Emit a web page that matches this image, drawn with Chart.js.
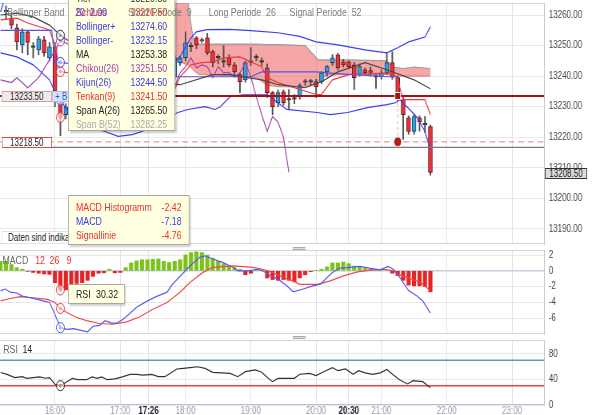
<!DOCTYPE html>
<html><head><meta charset="utf-8">
<script src="https://cdn.jsdelivr.net/npm/chart.js@4.4.1/dist/chart.umd.min.js"></script>
<style>
html,body{margin:0;padding:0;background:#fff;overflow:hidden;width:600px;height:415px}
#wrap{position:absolute;left:0;top:0;width:750px;height:415px;transform:scaleX(0.8);transform-origin:0 0;font-family:"Liberation Sans",Arial,Helvetica,sans-serif}
canvas{position:absolute;left:0}
.abs{position:absolute;white-space:pre}
.plbl{position:absolute;height:11px;line-height:10px;font-size:10px;text-align:center;box-sizing:border-box;color:#222}
.tip{position:absolute;background:rgb(255,255,226);border:1px solid #a8a8a8;box-sizing:border-box;box-shadow:2px 2px 2px rgba(0,0,0,0.2);overflow:hidden}
.row{position:absolute;left:9px;right:9px;height:14px;line-height:14px;font-size:11px;white-space:nowrap}
.row .v{float:right}
.leg{position:absolute;top:5px;height:14px;line-height:14px;font-size:11px;color:#7a7a7a;white-space:pre}
.hdl{position:absolute;left:366px;width:16px;height:1px;border-top:1px solid #aaa;border-bottom:1px solid #aaa;background:#ddd}
</style></head><body>
<div id="wrap">
<canvas id="cMain" width="750" height="246" style="top:0"></canvas>
<canvas id="cMacd" width="750" height="90" style="top:246px"></canvas>
<canvas id="cRsi" width="750" height="79" style="top:336px"></canvas>

<div class="plbl" style="left:2px;top:91px;width:63px;background:#ececec;border:1px solid #dc9a9a">13233.50</div>
<div class="plbl" style="left:65px;top:91px;width:80px;background:#d3e3fa;border:1px solid #a9c0e0;color:#2f5fd0;text-align:left;padding-left:3px">+ Bollinger-</div>
<div class="plbl" style="left:2px;top:137px;width:63px;background:#fff;border:1px solid #d84a4a">13218.50</div>
<div class="plbl" style="left:681px;top:168px;width:53px;background:#dcdcdc;border:1px solid #333">13208.50</div>
<div class="abs" style="left:2px;top:231px;width:130px;height:13px;border:1px solid #e2e2e2;background:#fff;box-sizing:border-box;font-size:10px;line-height:11px;padding-left:7px;color:#222">Daten sind indikativ</div>

<div class="tip" style="left:85px;top:-12px;width:134px;height:143px">
 <div class="row" style="top:2px;color:#333"><span>Tief</span><span class="v">13220.50</span></div>
 <div class="row" style="top:16px;color:#e83030"><span>Schluss</span><span class="v">13226.50</span></div>
 <div class="row" style="top:30px;color:#3a3ae6"><span>Bollinger+</span><span class="v">13274.60</span></div>
 <div class="row" style="top:44px;color:#3a3ae6"><span>Bollinger-</span><span class="v">13232.15</span></div>
 <div class="row" style="top:58px;color:#222"><span>MA</span><span class="v">13253.38</span></div>
 <div class="row" style="top:72px;color:#a640a6"><span>Chikou(26)</span><span class="v">13251.50</span></div>
 <div class="row" style="top:86px;color:#3a3ae6"><span>Kijun(26)</span><span class="v">13244.50</span></div>
 <div class="row" style="top:100px;color:#e83030"><span>Tenkan(9)</span><span class="v">13241.50</span></div>
 <div class="row" style="top:114px;color:#222"><span>Span A(26)</span><span class="v">13265.50</span></div>
 <div class="row" style="top:128px;color:#aaa"><span>Span B(52)</span><span class="v">13282.25</span></div>
</div>
<div class="tip" style="left:85px;top:195px;width:152px;height:50px">
 <div class="row" style="top:4px;color:#e83030"><span>MACD Histogramm</span><span class="v">-2.42</span></div>
 <div class="row" style="top:18px;color:#3a3ae6"><span>MACD</span><span class="v">-7.18</span></div>
 <div class="row" style="top:32px;color:#e83030"><span>Signallinie</span><span class="v">-4.76</span></div>
</div>
<div class="tip" style="left:85px;top:284px;width:71px;height:20px">
 <div class="row" style="top:2px;color:#222"><span>RSI</span></div>
 <div class="abs" style="left:34px;top:2px;height:14px;line-height:14px;font-size:11px;color:#222">30.32</div>
</div>

<div class="leg" style="left:9px">Bollinger Band</div>
<div class="leg" style="left:94px;color:#4040e0">20  2.00</div>
<div class="leg" style="left:160px">Short Periode  9</div>
<div class="leg" style="left:261px">Long Periode  26</div>
<div class="leg" style="left:362px">Signal Periode  52</div>

<div class="leg" style="left:3px;top:253px;color:#666">MACD</div>
<div class="leg" style="left:44px;top:253px;color:#e83030">12</div>
<div class="leg" style="left:62px;top:253px;color:#e83030">26</div>
<div class="leg" style="left:83px;top:253px;color:#e83030">9</div>
<div class="leg" style="left:4px;top:342px;color:#666">RSI</div>
<div class="leg" style="left:28px;top:342px;color:#222">14</div>

<div class="hdl" style="top:247px"></div>
<div class="hdl" style="top:336px"></div>
</div>

<script>
// ---------- DATA ----------
const xTickLabels = ['16:00','17:00','17:26','18:00','19:00','20:00','20:30','21:00','22:00','23:00'];
const xBoldLabels = ['17:26','20:30'];
const priceTicks = [13190,13200,13210,13220,13230,13240,13250,13260];
const macdTicks = [2,0,-2,-4,-6];
const rsiTicks = [0,40,80];

const candleTimes = ['15:15','15:20','15:25','15:30','15:35','15:40','15:45','15:50','15:55','16:00','16:05','16:10',
 '17:50','17:55','18:00','18:05','18:10','18:15','18:20','18:25','18:30','18:35','18:40','18:45','18:50','18:55',
 '19:00','19:05','19:10','19:15','19:20','19:25','19:30','19:35','19:40','19:45','19:50','19:55',
 '20:00','20:05','20:10','20:15','20:20','20:25','20:30','20:35','20:40','20:45','20:50','20:55',
 '21:00','21:05','21:10','21:15','21:20','21:25','21:30','21:35','21:40','21:45'];
const opens = [13261.0,13259.0,13255.8,13250.2,13254.5,13249.8,13248.6,13251.9,13246.0,13249.6,13231.3,13227.4,
 13239.8,13244.4,13246.0,13249.6,13252.5,13252.0,13252.5,13248.0,13246.0,13244.8,13246.0,13243.7,13240.5,13238.8,
 13244.5,13246.0,13244.8,13242.7,13234.6,13231.3,13234.9,13232.2,13232.5,13233.3,13238.0,13238.1,
 13238.2,13238.2,13241.4,13244.4,13247.0,13244.7,13244.7,13243.7,13240.5,13242.1,13241.8,13239.9,
 13239.8,13241.1,13244.4,13239.5,13232.3,13226.4,13221.9,13226.4,13224.3,13223.5];
const highs = [13263.0,13260.0,13257.0,13255.5,13255.0,13251.0,13253.0,13253.0,13251.0,13251.0,13232.0,13231.0,
 13247.0,13246.5,13254.5,13251.0,13253.0,13252.5,13254.0,13248.5,13247.0,13250.0,13247.0,13244.5,13241.0,13245.0,
 13249.3,13247.0,13246.0,13244.0,13235.0,13235.5,13235.5,13235.6,13234.0,13237.5,13239.0,13239.0,
 13239.0,13241.5,13243.5,13247.0,13247.5,13245.5,13245.0,13244.5,13244.0,13242.7,13243.0,13240.5,
 13242.0,13247.6,13248.0,13240.0,13233.0,13227.0,13227.5,13227.0,13226.8,13224.0];
const lows = [13258.5,13255.5,13248.6,13247.6,13247.0,13246.0,13247.0,13246.5,13245.0,13230.0,13220.5,13226.0,
 13239.0,13243.5,13245.0,13248.0,13249.0,13251.0,13247.0,13243.0,13244.0,13243.0,13243.0,13239.8,13234.6,13238.0,
 13243.5,13245.0,13243.5,13233.0,13227.4,13230.0,13230.5,13229.0,13231.0,13232.5,13237.0,13237.0,
 13233.0,13237.5,13240.0,13243.5,13242.0,13243.0,13242.5,13235.6,13240.0,13240.5,13240.0,13236.0,
 13239.0,13240.5,13239.0,13232.0,13219.3,13221.0,13221.0,13222.0,13221.5,13207.6];
const closes = [13261.5,13256.7,13251.2,13254.5,13251.0,13249.4,13252.2,13247.6,13249.6,13232.3,13226.5,13230.0,
 13246.0,13246.0,13250.9,13249.9,13250.2,13251.5,13247.6,13244.4,13246.3,13244.6,13243.7,13241.4,13238.2,13244.4,
 13244.8,13246.2,13244.6,13234.6,13230.0,13234.6,13231.3,13232.4,13232.8,13236.9,13238.3,13238.3,
 13236.5,13241.1,13243.1,13246.0,13242.7,13243.7,13243.1,13239.5,13243.1,13241.1,13241.2,13239.7,
 13241.1,13244.4,13239.8,13233.3,13227.4,13221.9,13226.8,13225.1,13224.1,13208.5];

const bbUpperTimes = ['15:10','15:13','15:16','15:30','16:00','16:05','16:30','17:00','17:30','17:45','17:50','17:55','18:00','18:05','18:10','18:20','18:40','19:00','19:25','19:45','20:00','20:20','20:45','21:05','21:15','21:25','21:40','21:45'];
const bbUpper = [13261,13264.5,13266,13268,13268,13274.6,13276,13274,13266,13252,13244.5,13246.5,13249.6,13252.5,13254.5,13255.2,13255.3,13254.9,13254.2,13253,13251.2,13250.2,13248.6,13247.6,13249.3,13251.2,13252.8,13256.1];
const bbLowerTimes = ['15:10','15:25','15:40','15:55','16:00','16:05','16:14','16:32','16:46','16:58','17:11','17:20','17:37','17:53','18:02','18:18','18:27','18:32','18:41','18:53','19:15','19:33','20:01','20:13','20:29','20:47','21:05','21:13','21:17','21:26','21:33','21:40','21:45'];
const bbLower = [13247.6,13246.3,13243.7,13238.8,13234.9,13232.15,13227.4,13223.2,13221.9,13220.3,13220.9,13221.9,13225.1,13228.1,13229.1,13230,13229.1,13230,13233.3,13233.9,13233.9,13229.1,13228.1,13227.4,13228.1,13229.7,13230.7,13231.3,13232.3,13229.1,13226.4,13221.9,13216];
const maTimes = ['15:10','15:25','15:40','15:55','16:05','16:40','17:20','17:55','18:25','18:40','19:10','19:25','19:50','20:05','20:20','20:45','21:05','21:30','21:45'];
const maValues = [13260,13260.6,13259.4,13256.7,13253.38,13245,13238,13237.2,13240.5,13240.5,13238.8,13237.2,13236.2,13238.2,13241.4,13244.4,13242.1,13238.8,13235.9];
const tenkanTimes = ['15:10','15:25','15:35','15:55','16:00','16:05','17:50','17:55','18:05','18:15','18:25','18:35','18:50','19:10','19:15','19:25','20:00','20:05','20:15','20:30','21:10','21:15','21:20','21:40','21:45'];
const tenkan = [13258.4,13259,13257.4,13255.1,13250.2,13241.5,13235.6,13239.8,13243.7,13244.4,13244.7,13246,13246.3,13243.1,13239.5,13237.9,13234,13234,13238.8,13240.5,13241.1,13238.8,13232.3,13232.3,13227.4];
const kijunTimes = ['15:10','15:57','16:00','16:05','17:50','18:55','19:00','19:10','20:00','20:10','21:05','21:15'];
const kijun = [13255,13255,13244.5,13244.5,13239.8,13239.8,13239.8,13241.4,13241.4,13241.1,13239.8,13239.8];
const chikouTimes = ['15:10','15:20','15:25','15:35','15:45','15:55','16:00','16:05','17:50','17:55','18:00','18:05','18:10','18:15','18:20','18:25','18:30','18:35','18:40','18:45','18:50','18:55','19:00','19:05','19:10','19:15','19:20','19:25','19:30','19:35'];
const chikou = [13238.8,13237.9,13239.5,13236.2,13239.5,13245.3,13248.6,13251.5,13236.5,13241.1,13243.1,13246,13242.7,13243.7,13243.1,13239.5,13243.1,13241.1,13241.2,13239.7,13241.1,13244.4,13239.8,13233.3,13227.4,13222,13226.8,13225,13220,13208.5];
const cloudTimes = ['17:40','17:50','18:00','18:03','18:07','18:12','18:30','18:50','19:05','19:15','19:25','19:50','19:55','20:02','20:10','20:30','21:05','21:10','21:20','21:30','21:45'];
const spanA = [13245,13245,13244,13243.5,13242,13240.5,13240.3,13240,13239.5,13237,13236.5,13236.5,13237,13238.5,13240.3,13240.5,13240.5,13240.2,13240,13240,13240];
const spanB = [13278,13276,13272,13262,13252,13250.5,13250.5,13250.5,13250.5,13250.3,13250.3,13250,13248,13245.3,13245.3,13245.3,13245,13243,13242.5,13243,13242.5];
const markTime = '16:05';
const markerMain = [['MA',13253.38,'#222'],['Chikou',13251.5,'#a640a6'],['Kijun',13244.5,'#3a3ae6'],['Tenkan',13241.5,'#e83030'],['Bollinger-',13232.15,'#3a3ae6'],['Schluss',13226.5,'#e83030']];
const lineLevelDark = 13233.5, lineLevelDash = 13218.5, lineLevelGray = 13216.7;
const drawTime = '21:15', grayStart = '15:57';

const histTimes = ('15:10 15:15 15:20 15:25 15:30 15:35 15:40 15:45 15:50 15:55 16:00 16:05 16:10 16:15 16:20 16:25 16:30 16:35 16:40 16:45 16:50 16:55 '+
 '17:00 17:05 17:10 17:15 17:20 17:25 17:30 17:35 17:40 17:45 17:50 17:55 18:00 18:05 18:10 18:15 18:20 18:25 18:30 18:35 18:40 18:45 18:50 18:55 '+
 '19:00 19:05 19:10 19:15 19:20 19:25 19:30 19:35 19:40 19:45 19:50 19:55 20:00 20:05 20:10 20:15 20:20 20:25 20:30 20:35 20:40 20:45 20:50 20:55 '+
 '21:00 21:05 21:10 21:15 21:20 21:25 21:30 21:35 21:40 21:45').split(' ');
const histValues = [1.2,1.2,0.8,0.4,0.2,-0.05,-0.2,-0.3,-0.4,-0.45,-1.5,-2.42,-2.4,-2.0,-1.6,-1.5,-1.2,-0.7,-0.3,-0.25,0.2,-0.25,
 -0.2,0.4,1.0,1.25,1.4,1.4,1.45,1.5,1.2,1.05,1.2,1.4,2.0,2.3,2.4,2.3,2.0,1.6,1.2,0.9,0.6,0.4,0.2,-0.5,
 -0.3,0.05,0.1,-0.9,-1.1,-1.2,-1.1,-1.2,-1.4,-0.9,-0.5,-0.1,0.05,0.2,0.5,1.0,1.0,1.1,0.9,0.6,0.5,0.3,0.2,0.05,
 0.1,0.1,-0.3,-0.6,-1.2,-1.8,-1.9,-1.9,-2.0,-2.65];
const macdTimes = ['15:10','15:14','15:19','15:25','15:30','15:37','15:44','15:49','15:55','15:58','16:03','16:05','16:11','16:17','16:26','16:30','16:35','16:41','16:46','16:52','16:57','17:03','17:09','17:15','17:25','17:34','17:43','17:48','17:57','18:04','18:13','18:18','18:25','18:34','18:44','18:48','18:57','19:06','19:11','19:18','19:25','19:33','19:39','19:48','19:57','20:04','20:10','20:15','20:22','20:29','20:40','20:50','20:59','21:06','21:11','21:17','21:25','21:33','21:38','21:45'];
const macdValues = [-2.53,-2.3,-2.7,-2.8,-3.2,-3.4,-3.6,-3.8,-4.0,-4.85,-6.5,-7.18,-7.4,-7.3,-7.6,-7.7,-7.0,-6.9,-6.3,-6.6,-6.6,-6.1,-5.35,-4.6,-3.8,-3.2,-2.7,-1.7,-0.4,0.6,1.7,1.9,1.5,1.06,0.43,0.0,0.0,0.2,0.0,-0.63,-1.05,-1.9,-2.65,-2.3,-1.9,-1.7,-0.85,-0.2,0.35,0.4,0.55,0.3,0.13,0.55,0.2,-0.85,-2.5,-3.2,-3.8,-5.35];
const signalTimes = ['15:10','15:19','15:28','15:40','15:53','16:00','16:05','16:11','16:20','16:29','16:41','16:53','17:06','17:18','17:30','17:43','17:55','18:04','18:16','18:25','18:44','19:02','19:11','19:20','19:30','19:39','19:45','20:01','20:13','20:25','20:38','20:50','21:02','21:11','21:17','21:26','21:36','21:45'];
const signalValues = [-3.8,-3.5,-3.25,-3.4,-3.6,-4.0,-4.76,-5.27,-5.9,-6.3,-6.66,-6.75,-6.45,-5.8,-4.85,-4.0,-2.7,-1.47,-0.2,0.43,0.63,0.43,0.2,-0.2,-0.85,-1.27,-1.7,-1.7,-1.27,-0.63,-0.13,0.1,0.2,0.0,-0.55,-0.96,-1.47,-2.5];
const markerMacd = [['Histogramm',-2.42,'#e83030'],['Signallinie',-4.76,'#e83030'],['MACD',-7.18,'#4a4af0']];

const rsiTimes = ['15:10','15:16','15:23','15:30','15:34','15:40','15:46','15:51','15:55','16:00','16:05','16:11','16:16','16:21','16:29','16:34','16:39','16:43','16:48','16:55','17:02','17:09','17:15','17:21','17:29','17:35','17:41','17:46','17:52','17:58','18:04','18:11','18:18','18:25','18:33','18:41','18:48','18:55','19:04','19:10','19:16','19:20','19:25','19:33','19:40','19:45','19:54','20:00','20:06','20:15','20:20','20:27','20:34','20:39','20:45','20:52','20:59','21:05','21:11','21:17','21:24','21:29','21:38','21:45'];
const rsiValues = [51,48,43,44.4,41.8,43,44,42,43,32.5,30.32,36.6,41.8,39.7,39.7,44,41.8,44,39.7,41,44,48,48,47,48,44.4,44.4,49.7,56.5,57.5,58.6,60,57.5,51.3,50.5,49.7,44.4,52.3,55,51.3,41.8,36.6,41.8,41.8,41.8,48.2,49.7,46,51.3,58.6,53.8,56.5,48.2,53.8,50.5,48.2,50.5,55.8,47,39.2,33,38.1,36.6,27];
const rsiLevels = [70,30];

// ---------- HELPERS ----------
const tm = s => { const p = s.split(':'); return (+p[0])*60 + (+p[1]); };
const fmt = v => { const h = Math.floor(v/60), m = Math.round(v - h*60); return h + ':' + (m<10?'0':'') + m; };
const pts = (times, vals) => times.map((t,i) => ({x: tm(t), y: vals[i]}));
const X_MIN = 909.5, X_MAX = 1409.4;
const hline = v => [{x:X_MIN,y:v},{x:X_MAX,y:v}];

Chart.defaults.font.family = '"Liberation Sans", Arial, Helvetica, sans-serif';
Chart.defaults.font.size = 10;
Chart.defaults.animation = false;

const noPad = s => { s.paddingTop = 0; s.paddingBottom = 0; s.paddingLeft = 0; s.paddingRight = 0; };
function xScale(showLabels){
  return {
    type:'linear', min:X_MIN, max:X_MAX, offset:false,
    afterBuildTicks: s => { s.ticks = xTickLabels.map(t => ({value: tm(t)})); },
    afterFit: s => { s.height = showLabels ? 10 : 0; noPad(s); },
    grid: { color:'#e0e0e0', drawTicks:false, offset:false },
    border: { display:false },
    ticks: showLabels ? {
      display:true, autoSkip:false, maxRotation:0, minRotation:0, padding:0,
      callback: v => fmt(v),
      color: c => (c.tick && xBoldLabels.includes(fmt(c.tick.value))) ? '#222' : '#9a9a9a',
      font: c => ({ size:10, weight: (c.tick && xBoldLabels.includes(fmt(c.tick.value))) ? 'bold' : 'normal' })
    } : { display:false }
  };
}
function yScale(min, max, ticks, f){
  return {
    position:'right', min, max,
    afterBuildTicks: s => { s.ticks = ticks.map(v => ({value:v})); },
    afterFit: s => { s.width = 70; noPad(s); },
    grid: { color:'#e8e8e8', drawTicks:false },
    border: { display:true, color:'#c4c4c4' },
    ticks: { padding:6, color:'#444', font:{size:10}, callback: f }
  };
}
const framePlugin = { id:'frame', beforeDatasetsDraw(chart){
  const {ctx, chartArea:a} = chart; ctx.save(); ctx.strokeStyle = '#d4d4d4'; ctx.lineWidth = 1;
  ctx.beginPath(); ctx.moveTo(a.left, a.top+0.5); ctx.lineTo(a.right, a.top+0.5);
  ctx.moveTo(a.left, a.bottom-0.5); ctx.lineTo(a.right, a.bottom-0.5); ctx.stroke(); ctx.restore(); } };

function line(data, color, width, order, extra){
  return Object.assign({type:'line', data, borderColor:color, borderWidth:width, pointRadius:0, tension:0, fill:false, order}, extra||{});
}
function ring(x, y, color){
  return [
    {type:'line', data:[{x,y}], showLine:false, pointRadius:5, pointBorderWidth:1, pointBorderColor:color, pointBackgroundColor:'rgba(255,255,255,0.55)', order:0},
    {type:'line', data:[{x,y}], showLine:false, pointRadius:1.8, pointBorderWidth:0, pointBackgroundColor:color, order:0}
  ];
}
const isUp = i => closes[i] > opens[i];
const isDoji = i => Math.abs(closes[i]-opens[i]) < 0.45;
const common = { responsive:false, devicePixelRatio:1, animation:false,
  plugins:{ legend:{display:false}, tooltip:{enabled:false} }, events:[] };

// ---------- MAIN PRICE CHART ----------
const mt = tm(markTime);
const mainSets = [
  Object.assign(line(pts(cloudTimes, spanA), 'rgba(190,70,70,0.55)', 1, 20), {fill:'+1', backgroundColor:'rgba(238,92,92,0.55)'}),
  line(pts(cloudTimes, spanB), '#9c9c9c', 1.2, 19),
  {type:'bar', data: candleTimes.map((t,i)=>({x:tm(t), y:[lows[i], highs[i]]})), barThickness:1.3, grouped:false,
   backgroundColor:'#505050', borderWidth:0, order:6},
  {type:'bar', data: candleTimes.map((t,i)=>({x:tm(t), y:[opens[i], closes[i]]})), barThickness:5, grouped:false, minBarLength:1.5,
   backgroundColor: c => isDoji(c.dataIndex) ? '#333' : (isUp(c.dataIndex) ? '#2aa5e4' : '#e8343c'),
   borderColor: c => isDoji(c.dataIndex) ? '#333' : (isUp(c.dataIndex) ? '#1d3f5e' : '#6a1818'),
   borderWidth:1, borderSkipped:false, order:5},
  line(pts(bbUpperTimes, bbUpper), '#3c3cef', 1.2, 3),
  line(pts(bbLowerTimes, bbLower), '#3c3cef', 1.2, 3),
  line(pts(maTimes, maValues), '#454545', 1.2, 3),
  line(pts(kijunTimes, kijun), '#5a52e0', 1.2, 3),
  line(pts(tenkanTimes, tenkan), '#f03a3a', 1.2, 3),
  line(pts(chikouTimes, chikou), '#a444b0', 1.2, 3),
  line(hline(lineLevelDark), '#a80f0f', 2, 1),
  line(hline(lineLevelDash), 'rgba(222,130,130,0.8)', 1.2, 1, {borderDash:[7,5]}),
  line([{x:tm(grayStart),y:lineLevelGray},{x:X_MAX,y:lineLevelGray}], '#7a7a7a', 1.2, 1),
  line([{x:tm(drawTime),y:lineLevelDash},{x:tm(drawTime),y:lineLevelDark}], 'rgba(222,130,130,0.8)', 1, 1, {borderDash:[3,3]}),
  {type:'line', data:[{x:tm(drawTime), y:lineLevelDark}], showLine:false, pointStyle:'rect', pointRadius:5, pointBackgroundColor:'#a81010', pointBorderColor:'#fff', pointBorderWidth:1, order:0},
  {type:'line', data:[{x:tm(drawTime), y:lineLevelDash}], showLine:false, pointRadius:4, pointBackgroundColor:'#b41c1c', pointBorderColor:'#b41c1c', order:0},
];
markerMain.forEach(m => mainSets.push(...ring(mt, m[1], m[2])));
new Chart(document.getElementById('cMain'), {
  type:'bar', data:{datasets: mainSets},
  options: Object.assign({}, common, {
    layout:{autoPadding:false, padding:{top:3, bottom:2, left:0, right:0}},
    scales:{ x: xScale(false), y: yScale(13185.09, 13263.93, priceTicks, v => Number(v).toFixed(2)) }
  }),
  plugins:[framePlugin]
});

// ---------- MACD ----------
const macdSets = [
  line(hline(0), '#c3d0de', 1.5, 9),
  {type:'bar', data: pts(histTimes, histValues), barThickness:4.5, grouped:false,
   backgroundColor: c => histValues[c.dataIndex] >= 0 ? '#7dc21c' : '#e42424', borderWidth:0, order:8},
  line(pts(signalTimes, signalValues), '#f04848', 1.2, 3),
  line(pts(macdTimes, macdValues), '#5656f0', 1.2, 2),
];
markerMacd.forEach(m => macdSets.push(...ring(mt, m[1], m[2])));
new Chart(document.getElementById('cMacd'), {
  type:'bar', data:{datasets: macdSets},
  options: Object.assign({}, common, {
    layout:{autoPadding:false, padding:{top:4, bottom:2, left:0, right:0}},
    scales:{ x: xScale(false), y: yScale(-7.984, 2.632, macdTicks, v => String(v)) }
  }),
  plugins:[framePlugin]
});

// ---------- RSI ----------
const rsiSets = [
  line(hline(rsiLevels[0]), '#5c9bb8', 1.5, 9),
  line(hline(rsiLevels[1]), '#e84444', 1.5, 9),
  line(hline(0), '#a9c5de', 2, 9),
  line(pts(rsiTimes, rsiValues), '#333', 1.2, 2),
  ...ring(mt, 30.32, '#222')
];
new Chart(document.getElementById('cRsi'), {
  type:'line', data:{datasets: rsiSets},
  options: Object.assign({}, common, {
    layout:{autoPadding:false, padding:{top:4, bottom:0, left:0, right:0}},
    scales:{ x: xScale(true), y: yScale(0, 101.96, rsiTicks, v => String(v)) }
  }),
  plugins:[framePlugin]
});
</script>
</body></html>
